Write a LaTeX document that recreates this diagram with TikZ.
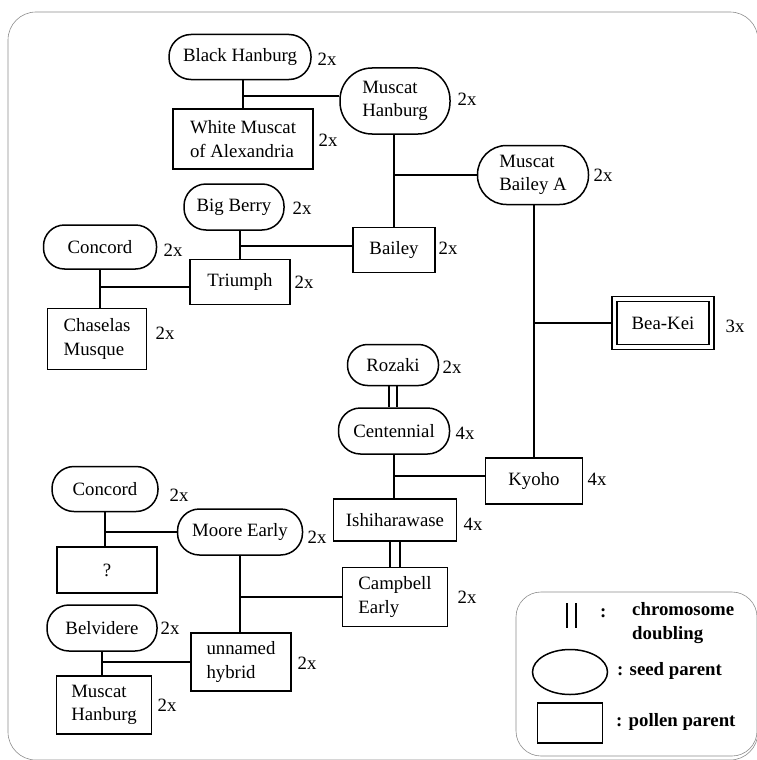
\documentclass[tikz,border=0pt]{standalone}
\usepackage{fontspec}
\setmainfont{Liberation Serif}
\usetikzlibrary{backgrounds}
\usetikzlibrary{shapes.geometric}

\tikzset{
  seed/.style={draw, fill=white, line width=1.5pt, rounded corners=#1, inner sep=0pt, align=left},
  seed/.default=22pt,
  pollen/.style={draw, fill=white, line width=1.5pt, inner sep=0pt, align=left},
  ploidy/.style={inner sep=0pt},
  link/.style={line width=1.5pt},
  doubling/.style={line width=1.4pt, double, double distance=#1},
  doubling/.default=6.5pt,
  panel/.style={draw=black!45, line width=0.6pt, rounded corners=#1},
  keytext/.style={font=\fontsize{18.8}{24}\selectfont\bfseries, inner sep=0pt, anchor=west, align=left}
}

\begin{document}
\begin{tikzpicture}[x=1pt, y=-1pt, font=\fontsize{18.8}{23.5}\selectfont]
\useasboundingbox (0,0) rectangle (756,760);
\draw[panel=28pt] (8,12) rectangle (758,760);

% Muscat Bailey A line
\node[seed, minimum width=142pt, minimum height=45pt] (bh) at (240,57) {Black Hanburg};
\node[pollen, minimum width=140pt, minimum height=60pt] (wm) at (243,139) {White Muscat\\of Alexandria};
\node[seed=32pt, minimum width=110pt, minimum height=66pt] (mh) at (395,101) {Muscat\\Hanburg};
\node[seed=29pt, minimum width=111pt, minimum height=59pt] (mba) at (533,175) {Muscat\\Bailey A};
\node[seed, minimum width=100pt, minimum height=46pt] (bb) at (234,207) {Big Berry};
\node[pollen, minimum width=82pt, minimum height=45pt] (bai) at (394,250) {Bailey};
\node[seed=21pt, minimum width=113pt, minimum height=44pt] (con1) at (100,247) {Concord};
\node[pollen, minimum width=100pt, minimum height=45pt] (tri) at (240,282) {Triumph};
\node[pollen, minimum width=99pt, minimum height=61pt] (cha) at (97,339) {Chaselas\\Musque};
\node[pollen, double, double distance=3.5pt, minimum width=97pt, minimum height=48pt] (bea) at (663,323) {Bea-Kei};

% Kyoho line
\node[seed=20pt, minimum width=91pt, minimum height=41pt] (roz) at (393,365) {Rozaki};
\node[seed, minimum width=111pt, minimum height=46pt] (cen) at (394,431) {Centennial};
\node[pollen, minimum width=97pt, minimum height=46pt] (kyo) at (534,481) {Kyoho};
\node[pollen, minimum width=123pt, minimum height=42pt] (ish) at (395,520) {Ishiharawase};
\node[pollen, minimum width=105pt, minimum height=59pt] (cam) at (395,597) {Campbell\\Early};
\node[seed, minimum width=106pt, minimum height=45pt] (con2) at (105,489) {Concord};
\node[seed, minimum width=125pt, minimum height=46pt] (me) at (240,532) {Moore Early};
\node[pollen, minimum width=100pt, minimum height=46pt] (q) at (107,570) {?};
\node[seed, minimum width=110pt, minimum height=46pt] (bel) at (102,628) {Belvidere};
\node[pollen, minimum width=100pt, minimum height=58pt] (un) at (241,662) {unnamed\\hybrid};
\node[pollen, minimum width=95pt, minimum height=58pt] (mh2) at (104,705) {Muscat\\Hanburg};

% ploidy
\node[ploidy] (bhx) at (327,59) {2x};
\node[ploidy] (wmx) at (328,140) {2x};
\node[ploidy] (mhx) at (467,99) {2x};
\node[ploidy] (mbax) at (603,175) {2x};
\node[ploidy] (bbx) at (302,208) {2x};
\node[ploidy] (baix) at (448,248) {2x};
\node[ploidy] (con1x) at (173,250) {2x};
\node[ploidy] (trix) at (304,282) {2x};
\node[ploidy] (chax) at (165,333) {2x};
\node[ploidy] (beax) at (735,326) {3x};
\node[ploidy] (rozx) at (452,367) {2x};
\node[ploidy] (cenx) at (465,433) {4x};
\node[ploidy] (kyox) at (597,479) {4x};
\node[ploidy] (ishx) at (473,524) {4x};
\node[ploidy] (camx) at (467,597) {2x};
\node[ploidy] (con2x) at (179,495) {2x};
\node[ploidy] (mex) at (317,537) {2x};
\node[ploidy] (belx) at (170,628) {2x};
\node[ploidy] (unx) at (307,663) {2x};
\node[ploidy] (mh2x) at (167,705) {2x};

\begin{pgfonlayer}{background}
\draw[link] (wm.north) -- (wm.north |- bh.south)
  ([yshift=5pt]mh.west) -- ([yshift=5pt]mh.west -| wm.north);
\draw[link] (bai.north) -- (bai.north |- mh.south)
  (mba.west) -- (mba.west -| bai.north);
\draw[link] (tri.north) -- (tri.north |- bb.south)
  ([yshift=4pt]bai.west) -- ([yshift=4pt]bai.west -| tri.north);
\draw[link] (con1.south) -- (con1.south |- cha.north)
  ([yshift=-5pt]tri.west) -- ([yshift=-5pt]tri.west -| con1.south);
\draw[link] (kyo.north) -- (kyo.north |- mba.south)
  (bea.west) -- (bea.west -| kyo.north);
\draw[doubling=6.6pt] (roz.south) -- (roz.south |- cen.north);
\draw[link] (cen.south) -- (cen.south |- ish.north)
  ([yshift=5pt]kyo.west) -- ([yshift=5pt]kyo.west -| cen.south);
\draw[doubling=8.4pt] (ish.south) -- (ish.south |- cam.north);
\draw[link] (con2.south) -- (con2.south |- q.north)
  (me.west) -- (me.west -| con2.south);
\draw[link] (me.south) -- (me.south |- un.north)
  (cam.west) -- (cam.west -| me.south);
\draw[link] (bel.south) -- (bel.south |- mh2.north)
  (un.west) -- (un.west -| bel.south);
\end{pgfonlayer}

% key
\draw[panel=25pt] (516,592) rectangle (757,756);
\coordinate (dbltop) at (571.5,603);
\coordinate (dblbot) at (571.5,628);
\draw[doubling=7.5pt] (dbltop) -- (dblbot);
\node[keytext] (colon) at (600,613) {:};
\node[keytext] (dbltext) at (632,623) {chromosome\\doubling};
\node[draw, ellipse, line width=1.5pt, minimum width=75pt, minimum height=45pt, inner sep=0pt] (seedkey) at (570,672) {};
\node[keytext] (seedtext) at (617,671) {: seed parent};
\node[pollen, minimum width=65pt, minimum height=40pt] (pollenkey) at (570,723) {};
\node[keytext] (pollentext) at (616,722) {: pollen parent};
\end{tikzpicture}
\end{document}
